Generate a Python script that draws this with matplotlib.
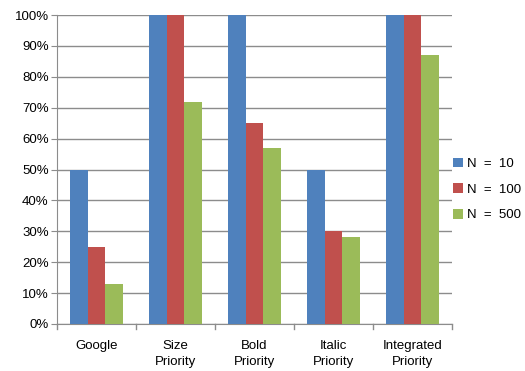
import matplotlib.pyplot as plt
import numpy as np

# categorias y series
categorias = ["Google", "Size\nPriority", "Bold\nPriority", "Italic\nPriority", "Integrated\nPriority"]
series = ["N  =  10", "N  =  100", "N  =  500"]
n10 = [50, 100, 100, 50, 100]
n100 = [25, 100, 65, 30, 100]
n500 = [13, 72, 57, 28, 87]
colores = ["#4F81BD", "#C0504D", "#9BBB59"]

plt.rcParams["font.family"] = ["Liberation Sans", "DejaVu Sans"]

fig = plt.figure(figsize=(5.25, 3.71), dpi=100)
ax = fig.add_axes([57 / 525, 1 - 324 / 371, 395 / 525, 309 / 371])

x = np.arange(len(categorias))
ancho = 0.224
for i, (vals, nombre) in enumerate(zip([n10, n100, n500], series)):
    ax.bar(x + (i - 1) * ancho, vals, ancho, color=colores[i], label=nombre, zorder=3)

ax.set_xlim(-0.5, len(categorias) - 0.5)
ax.set_ylim(0, 100)
ax.set_yticks(range(0, 101, 10))
ax.set_yticklabels([f"{v}%" for v in range(0, 101, 10)], fontsize=9.5)
ax.yaxis.grid(True, color="#8C8C8C", linewidth=1, zorder=0)

# etiquetas del eje x centradas, marcas en los limites de categoria
ax.set_xticks(x)
ax.set_xticklabels(categorias, fontsize=9.5, linespacing=1.45)
ax.tick_params(axis="x", length=0, pad=11.5)
for b in np.arange(-0.5, len(categorias), 1):
    ax.plot([b, b], [0, -1.5], color="#8C8C8C", linewidth=1, clip_on=False)
ax.tick_params(axis="y", length=4, color="#8C8C8C", pad=2)

for lado in ["top", "right"]:
    ax.spines[lado].set_visible(False)
for lado in ["left", "bottom"]:
    ax.spines[lado].set_color("#8C8C8C")

ax.legend(loc="center left", bbox_to_anchor=(0.99, 0.435), frameon=False,
          fontsize=9.5, handlelength=0.75, handleheight=0.75, handletextpad=0.3,
          labelspacing=1.0, borderaxespad=0)

fig.savefig("out.png", dpi=100)
